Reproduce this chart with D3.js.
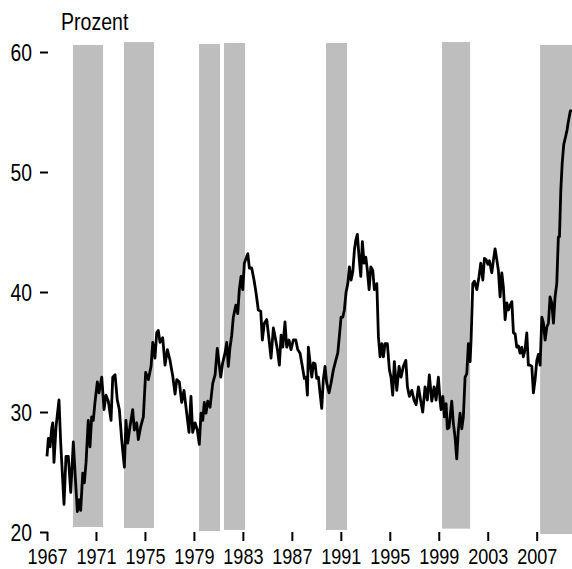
<!DOCTYPE html>
<html>
<head>
<meta charset="utf-8">
<script src="https://cdn.jsdelivr.net/npm/d3@7"></script>
<style>
  html, body { margin: 0; padding: 0; background: #fff; }
  svg { display: block; }
  text { font-family: "Liberation Sans", Arial, sans-serif; fill: #000; }
</style>
</head>
<body>
<svg id="chart" width="572" height="569"></svg>
<script>
// ---- Data ----
const unitLabel = "Prozent";
const yTicks = [20, 30, 40, 50, 60];
const xTicks = [1967, 1971, 1975, 1979, 1983, 1987, 1991, 1995, 1999, 2003, 2007];

// Shaded periods (start year, end year, lower value, upper value)
const shadeStart = [1969.12, 1973.29, 1979.42, 1981.46, 1989.79, 1999.27, 2007.28];
const shadeEnd   = [1971.58, 1975.74, 1981.13, 1983.18, 1991.51, 2001.56, 2010.5];
const shadeLow   = [20.42, 20.33, 20.08, 20.17, 20.17, 20.28, 19.83];
const shadeHigh  = [60.58, 60.83, 60.67, 60.75, 60.75, 60.83, 60.58];

// Series: years elapsed since 1967 and value in percent
const offsets = [
 0.00,0.11,0.25,0.38,0.47,0.57,0.74,0.98,1.12,1.39,1.55,1.74,1.94,2.15,2.31,2.48,2.64,2.75,2.92,3.05,
 3.19,3.37,3.51,3.65,3.78,3.92,4.11,4.25,4.47,4.66,4.82,5.01,5.23,5.37,5.56,5.74,5.91,6.10,6.32,6.45,
 6.59,6.78,7.00,7.13,7.33,7.46,7.66,7.87,8.06,8.28,8.50,8.64,8.82,8.96,9.09,9.23,9.45,9.64,9.83,10.05,
 10.27,10.46,10.60,10.81,11.00,11.19,11.41,11.60,11.76,11.90,12.09,12.28,12.44,12.58,12.72,12.85,12.99,13.13,13.32,13.54,
 13.73,13.91,14.05,14.19,14.35,14.54,14.68,14.81,14.95,15.09,15.22,15.42,15.58,15.71,15.85,15.99,16.12,16.26,16.40,16.53,
 16.72,16.91,17.08,17.26,17.46,17.59,17.75,17.95,18.14,18.30,18.49,18.68,18.82,18.98,19.12,19.26,19.44,19.58,19.77,19.93,
 20.12,20.32,20.48,20.67,20.86,21.02,21.16,21.27,21.35,21.49,21.63,21.76,21.90,22.03,22.17,22.30,22.44,22.57,22.71,22.85,
 23.04,23.20,23.39,23.59,23.75,23.88,24.02,24.16,24.29,24.43,24.57,24.70,24.84,24.98,25.11,25.22,25.35,25.49,25.63,25.76,
 25.90,26.04,26.17,26.31,26.45,26.61,26.74,26.94,27.07,27.21,27.35,27.48,27.61,27.80,27.97,28.10,28.24,28.37,28.57,28.76,
 28.92,29.11,29.31,29.44,29.60,29.80,29.98,30.15,30.34,30.53,30.69,30.88,31.07,31.23,31.43,31.62,31.78,31.97,32.11,32.19,
 32.33,32.46,32.60,32.70,32.84,33.06,33.19,33.33,33.47,33.60,33.74,33.88,34.01,34.15,34.29,34.42,34.56,34.64,34.78,34.91,
 35.11,35.29,35.43,35.60,35.73,35.87,36.01,36.14,36.33,36.46,36.60,36.74,36.87,37.01,37.15,37.28,37.42,37.56,37.69,37.83,
 37.97,38.10,38.24,38.37,38.51,38.64,38.78,38.91,39.05,39.19,39.32,39.46,39.60,39.73,39.87,40.01,40.14,40.28,40.42,40.55,
 40.69,40.83,40.96,41.09,41.23,41.37,41.50,41.64,41.77,41.86,41.97,42.08,42.21,42.35,42.48,42.57,42.75,42.89
];
const values = [
 26.3,27.8,27.1,28.6,29.1,25.8,28.8,31.0,27.4,22.3,26.3,26.3,23.3,27.5,24.6,21.7,22.7,21.8,24.9,24.1,
 25.8,29.3,27.1,29.6,29.3,30.8,32.5,31.6,32.9,30.2,31.4,30.9,29.3,32.9,33.1,31.0,30.2,27.7,25.4,29.3,
 27.4,28.8,30.2,28.5,29.1,27.7,28.8,29.6,33.3,32.7,33.8,35.8,34.5,36.6,36.8,35.8,36.2,33.9,35.2,34.3,
 33.0,31.5,32.7,32.5,30.8,31.8,29.9,28.3,31.3,28.3,29.1,28.5,27.3,29.9,29.3,30.8,29.9,30.9,30.4,32.4,
 33.1,35.3,34.1,32.9,34.1,34.9,35.8,33.8,35.4,36.4,37.9,38.9,38.2,40.2,41.3,40.2,42.4,42.8,43.2,42.0,
 42.0,41.0,39.9,38.5,38.4,36.0,37.4,37.7,36.0,34.5,37.0,36.0,35.2,33.9,36.4,35.4,37.5,35.4,36.0,35.2,
 36.0,36.0,35.2,34.9,33.8,32.8,32.9,31.4,35.4,34.1,32.9,34.1,34.0,32.8,32.9,31.6,30.3,32.7,33.8,32.4,
 31.6,32.4,33.5,34.3,34.9,36.3,37.9,37.9,38.5,40.0,40.7,42.1,41.0,41.7,43.5,44.3,44.8,42.9,41.3,44.2,
 42.4,42.9,41.8,40.2,42.1,41.8,40.2,40.7,36.3,34.6,35.7,34.6,35.7,35.7,33.5,32.9,31.4,34.2,31.8,33.8,
 32.9,33.8,34.3,32.1,31.3,31.8,31.0,30.6,32.1,30.9,30.0,32.1,31.0,33.1,30.9,32.1,31.0,32.9,30.9,30.2,
 31.3,29.6,30.7,28.6,28.7,30.9,29.1,27.9,26.1,28.5,29.9,28.6,29.6,32.9,33.2,35.7,34.2,36.0,40.7,40.9,
 40.2,41.3,42.4,41.0,42.8,42.7,42.3,42.6,41.6,42.6,43.6,42.7,41.8,39.6,41.6,40.4,37.7,39.1,38.5,38.9,
 39.2,36.6,36.5,35.4,35.5,34.9,35.4,34.6,35.2,36.6,33.9,33.9,33.8,31.6,32.7,34.3,34.8,33.9,37.9,37.4,
 36.0,37.1,37.4,39.6,39.1,37.4,39.6,40.7,44.6,44.6,48.5,50.7,52.3,52.9,53.5,54.1,55.1,55.1
];
const baseYear = 1967;

// ---- Drawing ----
const svg = d3.select("#chart");
const x = d3.scaleLinear().domain([1967, 2007]).range([47, 536.7]);
const y = d3.scaleLinear().domain([20, 60]).range([532, 52]);

const shades = shadeStart.map((s, i) => ({ s, e: shadeEnd[i], lo: shadeLow[i], hi: shadeHigh[i] }));
svg.append("g").selectAll("rect").data(shades).join("rect")
  .attr("x", d => x(d.s))
  .attr("width", d => x(d.e) - x(d.s))
  .attr("y", d => y(d.hi))
  .attr("height", d => y(d.lo) - y(d.hi))
  .attr("fill", "#bebebe");

const series = offsets.map((o, i) => ({ t: baseYear + o, v: values[i] }));
svg.append("path").datum(series)
  .attr("fill", "none")
  .attr("stroke", "#000")
  .attr("stroke-width", 2.8)
  .attr("stroke-linejoin", "round")
  .attr("d", d3.line().x(d => x(d.t)).y(d => y(d.v)));

// condensed look: compress glyphs horizontally
function narrow(sel, factor) {
  sel.each(function () {
    const w = this.getComputedTextLength();
    d3.select(this).attr("textLength", w * factor).attr("lengthAdjust", "spacingAndGlyphs");
  });
}

// Y axis (ticks only, no domain line)
const yAxis = svg.append("g").attr("transform", "translate(48,0)")
  .call(d3.axisLeft(y).tickValues(yTicks).tickSize(8).tickPadding(8).tickFormat(d3.format("d")));
yAxis.select(".domain").remove();
yAxis.selectAll(".tick line").attr("stroke", "#000").attr("stroke-width", 2);
yAxis.selectAll(".tick text").attr("font-size", 23).attr("dy", "0.35em").call(narrow, 0.84);

// X axis (ticks only, no domain line)
const xAxis = svg.append("g").attr("transform", "translate(0,532)")
  .call(d3.axisBottom(x).tickValues(xTicks).tickSize(9).tickPadding(0).tickFormat(d3.format("d")));
xAxis.select(".domain").remove();
xAxis.selectAll(".tick line").attr("stroke", "#000").attr("stroke-width", 2);
xAxis.selectAll(".tick text").attr("font-size", 22).attr("y", 32).attr("dy", 0).call(narrow, 0.82);

svg.append("text").attr("x", 61).attr("y", 29.5).attr("font-size", 23).text(unitLabel).call(narrow, 0.85);
</script>
</body>
</html>
